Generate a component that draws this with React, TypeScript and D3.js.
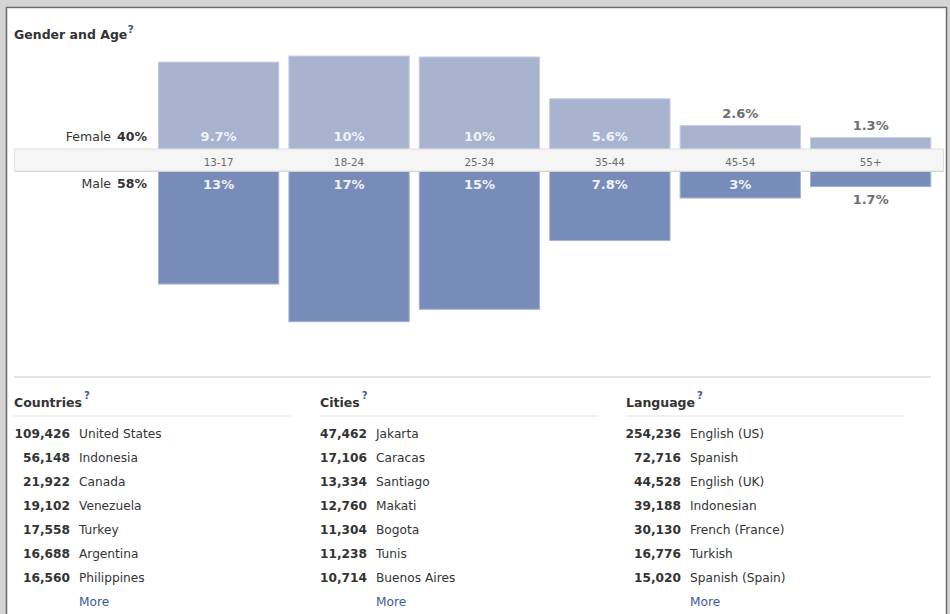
import React from "react";
import * as d3 from "d3";

const ageGroups = ["13-17", "18-24", "25-34", "35-44", "45-54", "55+"];
const femaleValues = [9.74, 10.42, 10.31, 5.64, 2.64, 1.3];
const maleValues = [12.63, 16.84, 15.45, 7.76, 3.02, 1.74];
const genderLabels = ["Female", "Male"];
const genderTotals = [40, 58];

const countryNames = ["United States", "Indonesia", "Canada", "Venezuela", "Turkey", "Argentina", "Philippines"];
const countryValues = [109426, 56148, 21922, 19102, 17558, 16688, 16560];
const cityNames = ["Jakarta", "Caracas", "Santiago", "Makati", "Bogota", "Tunis", "Buenos Aires"];
const cityValues = [47462, 17106, 13334, 12760, 11304, 11238, 10714];
const languageNames = ["English (US)", "Spanish", "English (UK)", "Indonesian", "French (France)", "Turkish", "Spanish (Spain)"];
const languageValues = [254236, 72716, 44528, 39188, 30130, 16776, 15020];

const FONT = "Tahoma, 'DejaVu Sans', sans-serif";
const TEXT = "#333333";
const BLUE = "#3b5998";
const GREY_LABEL = "#6e6e6e";
const FEMALE_FILL = "#a7b3cf";
const MALE_FILL = "#778cb8";

export default function App() {
  const W = 950;
  const H = 614;
  const x = d3.scaleBand<string>().domain(ageGroups).range([158, 931.3]).paddingInner(0.07).paddingOuter(0);
  const k = d3.scaleLinear().domain([0, 1]).range([0, 8.95]);
  const femaleBase = 149.3;
  const maleBase = 171;
  const pct = (v: number) => d3.format(".2~r")(v) + "%";
  const num = d3.format(",");

  const sections = [
    { title: "Countries", x: 14, right: 70, lineEnd: 293, names: countryNames, values: countryValues },
    { title: "Cities", x: 320, right: 367, lineEnd: 598, names: cityNames, values: cityValues },
    { title: "Language", x: 626, right: 681, lineEnd: 905, names: languageNames, values: languageValues },
  ];
  const rowY = (i: number) => 438 + i * 24;

  return (
    <svg width={W} height={H} style={{ position: "absolute", left: 0, top: 0 }} fontFamily={FONT}>
      <rect x={0} y={0} width={W} height={H} fill="#d4d4d4" />
      <rect x={6.5} y={7.5} width={940} height={H} fill="#ffffff" stroke="#6a6a6a" strokeWidth={1.5} />
      <line x1={7.5} x2={946} y1={9} y2={9} stroke="#eeeeee" strokeWidth={1} />

      {/* Title */}
      <text x={14} y={39} fontSize={12.5} fontWeight="bold" fill={TEXT}>Gender and Age</text>
      <text x={127.5} y={33} fontSize={11} fontWeight="bold" fill={BLUE}>?</text>

      {/* Female bars */}
      {ageGroups.map((g, i) => {
        const h = k(femaleValues[i]);
        const bx = x(g)!;
        return (
          <rect key={"f" + g} x={bx + 0.5} y={femaleBase - h} width={x.bandwidth() - 1} height={h + 3}
            fill={FEMALE_FILL} stroke="#c3cbe0" strokeWidth={1} />
        );
      })}
      {/* Male bars */}
      {ageGroups.map((g, i) => {
        const h = k(maleValues[i]);
        const bx = x(g)!;
        return (
          <rect key={"m" + g} x={bx + 0.5} y={maleBase - 3} width={x.bandwidth() - 1} height={h + 3}
            fill={MALE_FILL} stroke="#a4b2d0" strokeWidth={1} />
        );
      })}

      {/* Age band */}
      <rect x={14.5} y={149} width={929} height={22} fill="#f5f5f5" stroke="#e0e0e0" strokeWidth={1} />
      <line x1={15} x2={943.5} y1={171.5} y2={171.5} stroke="#d6d6d6" strokeWidth={1} />
      {ageGroups.map((g) => (
        <text key={"a" + g} x={x(g)! + x.bandwidth() / 2} y={165.5} fontSize={10.3} fill="#6a6a6a" textAnchor="middle">{g}</text>
      ))}

      {/* Female labels */}
      {ageGroups.map((g, i) => {
        const h = k(femaleValues[i]);
        const cx = x(g)! + x.bandwidth() / 2;
        const inside = h > 30;
        return (
          <text key={"fl" + g} x={cx} y={inside ? 141 : femaleBase - h - 7.3} fontSize={13} fontWeight="bold"
            fill={inside ? "#f1f3f8" : GREY_LABEL} textAnchor="middle">{pct(femaleValues[i])}</text>
        );
      })}
      {/* Male labels */}
      {ageGroups.map((g, i) => {
        const h = k(maleValues[i]);
        const cx = x(g)! + x.bandwidth() / 2;
        const inside = h > 22;
        return (
          <text key={"ml" + g} x={cx} y={inside ? 189 : maleBase + h + 17} fontSize={13} fontWeight="bold"
            fill={inside ? "#f1f3f8" : GREY_LABEL} textAnchor="middle">{pct(maleValues[i])}</text>
        );
      })}

      {/* Gender totals */}
      {genderLabels.map((lab, i) => (
        <text key={lab} x={147} y={i === 0 ? 140.7 : 188.3} fontSize={12.5} fill={TEXT} textAnchor="end">
          {lab}<tspan dx={6} fontWeight="bold">{genderTotals[i]}%</tspan>
        </text>
      ))}

      {/* Divider */}
      <line x1={14} x2={931} y1={377} y2={377} stroke="#e3e3e3" strokeWidth={2} />

      {/* Lists */}
      {sections.map((s) => (
        <g key={s.title}>
          <text x={s.x} y={407} fontSize={12.5} fontWeight="bold" fill={TEXT}>{s.title}
            <tspan dx={2} dy={-8} fontSize={10} fill={BLUE}>?</tspan>
          </text>
          <line x1={s.x} x2={s.lineEnd} y1={416} y2={416} stroke="#ececec" strokeWidth={1.5} />
          {s.values.map((v, i) => (
            <g key={s.title + i}>
              <text x={s.right} y={rowY(i)} fontSize={12.2} fontWeight="bold" fill={TEXT} textAnchor="end">{num(v)}</text>
              <text x={s.right + 9} y={rowY(i)} fontSize={12.2} fill={TEXT}>{s.names[i]}</text>
            </g>
          ))}
          <text x={s.right + 9} y={rowY(s.values.length)} fontSize={12.2} fill={BLUE}>More</text>
        </g>
      ))}
    </svg>
  );
}
